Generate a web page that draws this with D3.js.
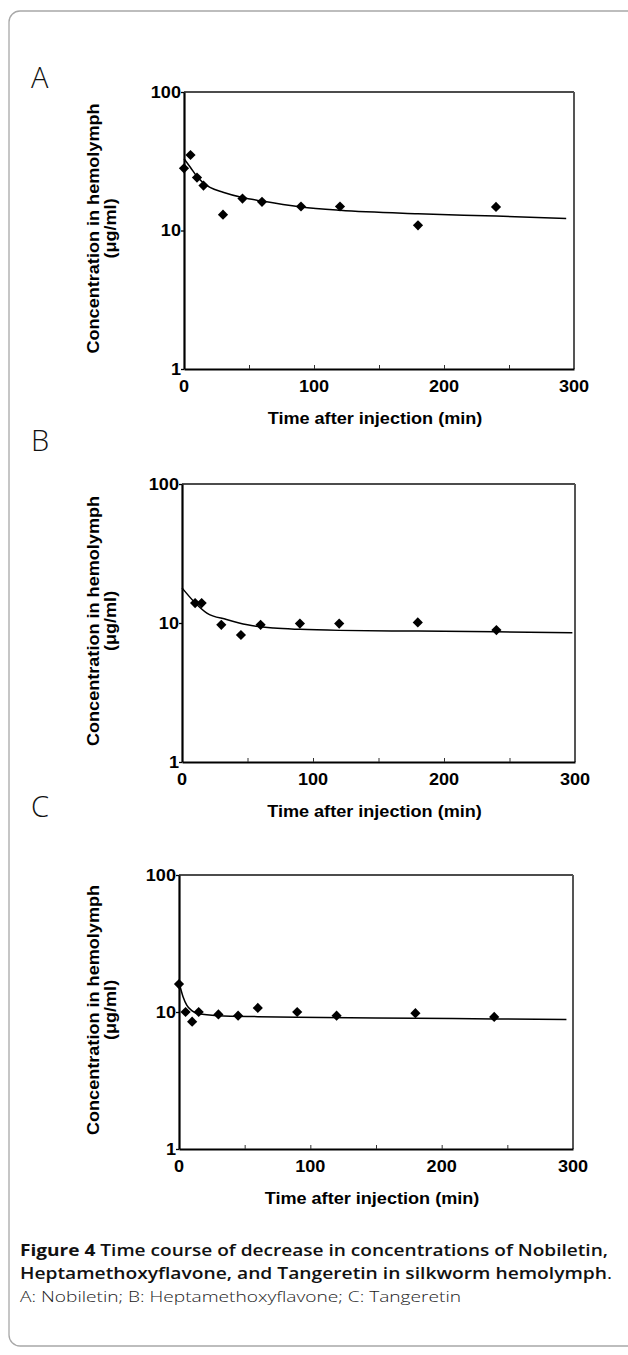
<!DOCTYPE html>
<html>
<head>
<meta charset="utf-8">
<script src="https://cdn.jsdelivr.net/npm/d3@7"></script>
<style>
  body { margin: 0; background: #fff; }
  svg { display: block; }
</style>
</head>
<body>
<div id="chart"></div>
<script>
const timesA = [0, 5, 10, 15, 30, 45, 60, 90, 120, 180, 240];
const concA = [28.1, 35.1, 24.1, 21.1, 13.0, 17.0, 16.1, 14.9, 14.9, 10.9, 14.8];
const fitTimesA = [0, 5, 10, 15, 20, 30, 45, 60, 90, 120, 180, 240, 294];
const fitA = [33, 28.5, 24.5, 22, 20.5, 18.9, 17.3, 16.3, 14.8, 14.0, 13.2, 12.7, 12.2];

const timesB = [10, 15, 30, 45, 60, 90, 120, 180, 240];
const concB = [13.9, 13.9, 9.7, 8.2, 9.7, 9.9, 9.9, 10.1, 8.9];
const fitTimesB = [0, 9, 19, 34, 50, 70, 90, 120, 180, 240, 298];
const fitB = [17.9, 14.3, 11.8, 10.6, 9.7, 9.2, 9.0, 8.85, 8.75, 8.65, 8.5];

const timesC = [0, 5, 10, 15, 30, 45, 60, 90, 120, 180, 240];
const concC = [16.0, 10.0, 8.5, 10.0, 9.6, 9.4, 10.7, 10.0, 9.4, 9.8, 9.2];
const fitTimesC = [0, 3, 6, 10, 15, 30, 60, 90, 180, 240, 295];
const fitC = [16.5, 13, 11.2, 10.2, 9.7, 9.4, 9.25, 9.15, 9.0, 8.9, 8.8];

const panelLabels = ['A', 'B', 'C'];
const xTickLabels = [0, 100, 200, 300];
const xMinorTicks = [50, 100, 150, 200, 250];
const yTickLabels = [1, 10, 100];
const xTitle = 'Time after injection (min)';
const yTitle = ['Concentration in hemolymph', '(\u03bcg/ml)'];

const W = 628, H = 1355;
const chartFont = '"Liberation Sans", Arial, sans-serif';
const capFont = '"Open Sans", "Noto Sans", sans-serif';

const svg = d3.select('#chart').append('svg')
  .attr('width', W)
  .attr('height', H);

// outer frame
svg.append('rect')
  .attr('x', 9).attr('y', 11)
  .attr('width', 700).attr('height', 1335)
  .attr('rx', 11)
  .attr('fill', 'none')
  .attr('stroke', '#a8a8a8')
  .attr('stroke-width', 1.3);

// stretch text horizontally like the scanned figure
function stretch(sel, k) {
  sel.each(function() {
    const w = this.getComputedTextLength();
    d3.select(this).attr('textLength', w * k).attr('lengthAdjust', 'spacingAndGlyphs');
  });
}

const panels = [
  { times: timesA, conc: concA, fitT: fitTimesA, fit: fitA, left: 184, right: 574, top: 92, bottom: 369, labelY: 88 },
  { times: timesB, conc: concB, fitT: fitTimesB, fit: fitB, left: 182, right: 575, top: 484, bottom: 762, labelY: 451 },
  { times: timesC, conc: concC, fitT: fitTimesC, fit: fitC, left: 179, right: 573, top: 875, bottom: 1149, labelY: 817 }
];

const diamond = d3.symbol().type(d3.symbolSquare).size(52);

panels.forEach((p, i) => {
  const x = d3.scaleLinear().domain([0, 300]).range([p.left, p.right]);
  const y = d3.scaleLog().domain([1, 100]).range([p.bottom, p.top]);
  const g = svg.append('g');

  svg.append('text')
    .attr('x', 31).attr('y', p.labelY)
    .attr('font-family', capFont)
    .attr('font-weight', 300)
    .attr('font-size', 29)
    .attr('fill', '#111')
    .text(panelLabels[i]);

  // top and right frame lines
  g.append('line')
    .attr('x1', x(0)).attr('x2', x(300))
    .attr('y1', y(100)).attr('y2', y(100))
    .attr('stroke', '#111').attr('stroke-width', 1.6);
  g.append('line')
    .attr('x1', x(300)).attr('x2', x(300))
    .attr('y1', y(100)).attr('y2', y(1))
    .attr('stroke', '#555').attr('stroke-width', 2);

  // x axis: minor ticks inside, labels every 100
  const xAxis = g.append('g').attr('transform', `translate(0,${p.bottom})`)
    .call(d3.axisBottom(x).tickValues(xMinorTicks).tickSizeInner(-4).tickSizeOuter(0).tickFormat(''));
  xAxis.select('.domain').attr('stroke', '#000').attr('stroke-width', 2.2);
  xAxis.selectAll('.tick line').attr('stroke', '#333').attr('stroke-width', 1);

  g.selectAll('.xlab')
    .data(xTickLabels)
    .enter().append('text')
    .attr('x', d => x(d))
    .attr('y', p.bottom + 23)
    .attr('text-anchor', 'middle')
    .attr('font-family', chartFont)
    .attr('font-weight', 'bold')
    .attr('font-size', 16)
    .text(d => d)
    .call(stretch, 1.13);

  // y axis
  const yAxis = g.append('g').attr('transform', `translate(${p.left},0)`)
    .call(d3.axisLeft(y).tickValues(yTickLabels).tickSizeInner(3).tickSizeOuter(0).tickFormat(''));
  yAxis.select('.domain').attr('stroke', '#000').attr('stroke-width', 2.2);
  yAxis.selectAll('.tick line').attr('stroke', '#000').attr('stroke-width', 1.3);

  g.selectAll('.ylab')
    .data(yTickLabels)
    .enter().append('text')
    .attr('x', p.left - 3)
    .attr('y', d => y(d))
    .attr('dy', '0.36em')
    .attr('text-anchor', 'end')
    .attr('font-family', chartFont)
    .attr('font-weight', 'bold')
    .attr('font-size', 16)
    .text(d => d)
    .call(stretch, 1.13);

  // axis titles
  g.append('text')
    .attr('x', (p.left + p.right) / 2 - 4)
    .attr('y', p.bottom + 55)
    .attr('text-anchor', 'middle')
    .attr('font-family', chartFont)
    .attr('font-weight', 'bold')
    .attr('font-size', 16)
    .text(xTitle)
    .call(stretch, 1.13);

  const cy = (p.top + p.bottom) / 2 - 2;
  yTitle.forEach((t, j) => {
    g.append('text')
      .attr('transform', `translate(${99 + j * 17},${cy}) rotate(-90)`)
      .attr('text-anchor', 'middle')
      .attr('font-family', chartFont)
      .attr('font-weight', 'bold')
      .attr('font-size', 16)
      .text(t)
      .call(stretch, 1.13);
  });

  // fit line
  const line = d3.line()
    .x(d => x(d[0]))
    .y(d => y(d[1]))
    .curve(d3.curveMonotoneX);
  g.append('path')
    .datum(d3.zip(p.fitT, p.fit))
    .attr('d', line)
    .attr('fill', 'none')
    .attr('stroke', '#000')
    .attr('stroke-width', 1.5);

  // measured points
  g.selectAll('.pt')
    .data(d3.zip(p.times, p.conc))
    .enter().append('path')
    .attr('d', diamond)
    .attr('transform', d => `translate(${x(d[0])},${y(d[1])}) rotate(45)`)
    .attr('fill', '#000');
});

// caption
const cap1 = svg.append('text')
  .attr('x', 20).attr('y', 1256)
  .attr('font-family', capFont)
  .attr('font-size', 16)
  .attr('fill', '#111');
cap1.append('tspan').attr('font-weight', 700).text('Figure 4 ');
cap1.append('tspan').attr('font-weight', 600).text('Time course of decrease in concentrations of Nobiletin,');
cap1.attr('textLength', 588).attr('lengthAdjust', 'spacingAndGlyphs');

const cap2 = svg.append('text')
  .attr('x', 20).attr('y', 1279)
  .attr('font-family', capFont)
  .attr('font-size', 16)
  .attr('fill', '#111');
cap2.append('tspan').attr('font-weight', 600).text('Heptamethoxyflavone, and Tangeretin in silkworm hemolymph');
cap2.append('tspan').attr('font-weight', 400).text('.');
cap2.attr('textLength', 592).attr('lengthAdjust', 'spacingAndGlyphs');

svg.append('text')
  .attr('x', 20).attr('y', 1302)
  .attr('font-family', capFont)
  .attr('font-weight', 300)
  .attr('font-size', 15)
  .attr('fill', '#222')
  .attr('textLength', 441)
  .attr('lengthAdjust', 'spacingAndGlyphs')
  .text('A: Nobiletin; B: Heptamethoxyflavone; C: Tangeretin');
</script>
</body>
</html>
